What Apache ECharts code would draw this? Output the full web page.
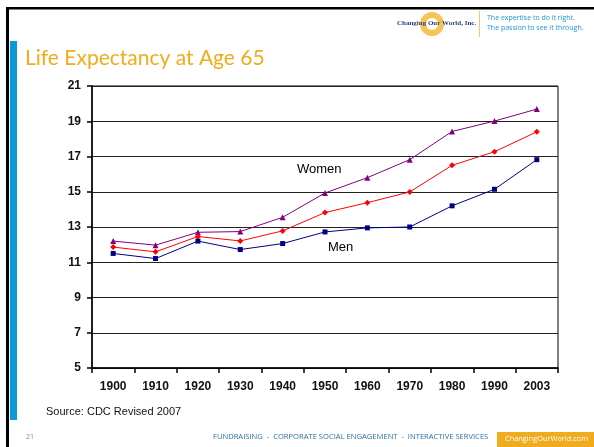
<!DOCTYPE html>
<html>
<head>
<meta charset="utf-8">
<style>
  html, body { margin: 0; padding: 0; background: #fff; }
  #chart { width: 594px; height: 447px; }
</style>
<script src="https://cdn.jsdelivr.net/npm/echarts@6/dist/echarts.min.js"></script>
</head>
<body>
<div id="chart"></div>
<script>
var years = ['1900', '1910', '1920', '1930', '1940', '1950', '1960', '1970', '1980', '1990', '2003'];
var women = [12.2, 11.97, 12.7, 12.74, 13.55, 14.93, 15.8, 16.82, 18.42, 19.01, 19.69];
var both = [11.86, 11.59, 12.46, 12.21, 12.78, 13.82, 14.38, 14.99, 16.5, 17.27, 18.4];
var men = [11.5, 11.21, 12.2, 11.72, 12.06, 12.72, 12.95, 13.0, 14.2, 15.14, 16.82];

var chart = echarts.init(document.getElementById('chart'));

var option = {
  animation: false,
  grid: {
    left: 92, right: 36, top: 86, bottom: 79,
    show: true, borderColor: '#000', borderWidth: 1
  },
  xAxis: {
    type: 'category',
    data: years,
    boundaryGap: true,
    axisLine: { lineStyle: { color: '#000', width: 1.5 } },
    axisTick: { show: true, length: 5, lineStyle: { color: '#000', width: 1.5 } },
    axisLabel: {
      color: '#111', fontFamily: 'Liberation Sans, Arial', fontWeight: 'bold',
      fontSize: 12, margin: 13
    },
    splitLine: { show: false }
  },
  yAxis: {
    type: 'value',
    min: 5, max: 21, interval: 2,
    axisLine: { show: true, lineStyle: { color: '#000', width: 1.5 } },
    axisTick: { show: true, length: 5, lineStyle: { color: '#000', width: 1.5 } },
    axisLabel: {
      color: '#111', fontFamily: 'Liberation Sans, Arial', fontWeight: 'bold',
      fontSize: 12, margin: 11
    },
    splitLine: { show: true, lineStyle: { color: '#222', width: 1.2 } }
  },
  series: [
    {
      name: 'Women', type: 'line', data: women,
      symbol: 'triangle', symbolSize: 6,
      lineStyle: { color: '#800080', width: 1 },
      itemStyle: { color: '#800080' }
    },
    {
      name: 'Both', type: 'line', data: both,
      symbol: 'diamond', symbolSize: 6,
      lineStyle: { color: '#ff0000', width: 1 },
      itemStyle: { color: '#ff0000' }
    },
    {
      name: 'Men', type: 'line', data: men,
      symbol: 'rect', symbolSize: 5,
      lineStyle: { color: '#000080', width: 1 },
      itemStyle: { color: '#000080' }
    }
  ],
  graphic: [
    // slide frame
    { type: 'rect', shape: { x: 6, y: 7, width: 600, height: 2.5 }, style: { fill: '#000' } },
    { type: 'rect', shape: { x: 6, y: 7, width: 3, height: 450 }, style: { fill: '#000' } },
    { type: 'rect', shape: { x: 10, y: 41, width: 7, height: 379 }, style: { fill: '#0a9ad8' } },
    // title
    { type: 'text', left: 25, top: 48, style: {
      text: 'Life Expectancy at Age 65', fill: '#f0ac1c',
      font: '21px Lato, "Open Sans", sans-serif' } },
    // logo
    { type: 'circle', shape: { cx: 432, cy: 24, r: 12 }, style: { fill: '#f3b72a', opacity: 0.8 } },
    { type: 'circle', shape: { cx: 432, cy: 24, r: 6 }, style: { fill: '#fff' } },
    { type: 'text', left: 397, top: 20, style: {
      text: 'Changing Our World, Inc.', fill: '#2b3f7a',
      font: 'bold 7px "Liberation Serif", serif' } },
    { type: 'rect', shape: { x: 479, y: 11, width: 1, height: 26 }, style: { fill: '#f3c66a' } },
    { type: 'text', left: 487, top: 13, style: {
      text: 'The expertise to do it right.\nThe passion to see it through.',
      fill: '#1a9ad6', lineHeight: 10, font: '7px "Open Sans", sans-serif' } },
    // annotations
    { type: 'text', left: 297, top: 163, style: {
      text: 'Women', fill: '#000', font: '13px "Liberation Sans", Arial' } },
    { type: 'text', left: 328, top: 241, style: {
      text: 'Men', fill: '#000', font: '13px "Liberation Sans", Arial' } },
    // source
    { type: 'text', left: 46, top: 406, style: {
      text: 'Source: CDC Revised 2007', fill: '#111', font: '11px "Liberation Sans", Arial' } },
    // footer
    { type: 'text', left: 26, top: 433, style: {
      text: '21', fill: '#888', font: '7px "Open Sans", sans-serif' } },
    { type: 'text', left: 213, top: 433, style: {
      text: 'FUNDRAISING  -  CORPORATE SOCIAL ENGAGEMENT  -  INTERACTIVE SERVICES',
      fill: '#2e6fa8', font: '7.6px "Open Sans", sans-serif' } },
    { type: 'rect', shape: { x: 497, y: 432, width: 100, height: 16 }, style: { fill: '#f0ac1c' } },
    { type: 'text', left: 505, top: 435, style: {
      text: 'ChangingOurWorld.com', fill: '#fff', font: '7.4px "Open Sans", sans-serif' } }
  ]
};

chart.setOption(option);
</script>
</body>
</html>
